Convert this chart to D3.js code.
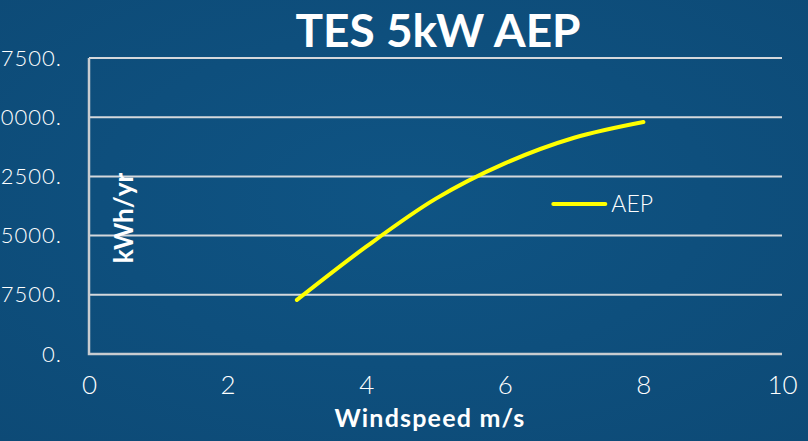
<!DOCTYPE html>
<html>
<head>
<meta charset="utf-8">
<script src="https://cdn.jsdelivr.net/npm/d3@7"></script>
<style>
    html, body { margin: 0; padding: 0; background: #0e4f7d; }
    svg { display: block; }
</style>
</head>
<body>
<div id="chart"></div>
<script>
// Chart data
const windspeed = [3, 4, 5, 6, 7, 8];
const aep = [6850, 13600, 19650, 24150, 27400, 29400];
const xTicks = [0, 2, 4, 6, 8, 10];
const yTicks = [0, 7500, 15000, 22500, 30000, 37500];
const seriesName = "AEP";

function createChart(container_width, container_height) {
    let svg = d3.select("#chart")
        .append("svg")
        .attr("width", container_width)
        .attr("height", container_height);

    // Background
    let grad = svg.append("defs")
        .append("radialGradient")
        .attr("id", "bg")
        .attr("cx", "50%").attr("cy", "45%").attr("r", "75%");
    grad.append("stop").attr("offset", "0%").attr("stop-color", "#0f5484");
    grad.append("stop").attr("offset", "100%").attr("stop-color", "#0d4a76");

    svg.append("rect")
        .attr("width", container_width)
        .attr("height", container_height)
        .attr("fill", "url(#bg)");

    let margin = { top: 58, left: 89, bottom: 87, right: 26 };
    let width = container_width - margin.left - margin.right;
    let height = container_height - margin.top - margin.bottom;

    let g = svg.append('g')
        .attr("transform", `translate(${margin.left}, ${margin.top})`);

    let xScale = d3.scaleLinear().domain([0, 10]).range([0, width]);
    let yScale = d3.scaleLinear().domain([0, 37500]).range([height, 0]);

    /* Grid lines */
    g.append('g')
        .selectAll("line")
        .data(yTicks.slice(1))
        .enter()
        .append("line")
        .attr("x1", 0)
        .attr("x2", width)
        .attr("y1", d => yScale(d))
        .attr("y2", d => yScale(d))
        .attr("stroke", "#d4d8dc")
        .attr("stroke-width", 2);

    /* Axes */
    let yAxis = d3.axisLeft(yScale)
        .tickValues(yTicks)
        .tickSize(0)
        .tickPadding(27)
        .tickFormat(d => d + ".");
    let xAxis = d3.axisBottom(xScale)
        .tickValues(xTicks)
        .tickSize(0)
        .tickPadding(22)
        .tickFormat(d3.format("d"));

    let yg = g.append('g').call(yAxis);
    let xg = g.append('g').attr("transform", `translate(0, ${height})`).call(xAxis);

    [yg, xg].forEach(a => {
        a.select(".domain").remove();
        a.selectAll("text")
            .attr("fill", "#ffffff")
            .attr("font-family", "Lato, 'Open Sans', sans-serif")
            .attr("font-weight", 300);
    });
    yg.selectAll("text")
        .attr("font-size", "22px")
        .attr("letter-spacing", "1px");
    xg.selectAll("text")
        .attr("font-size", "26px");

    // Left and bottom axis lines
    g.append("path")
        .attr("d", `M0,${yScale(37500)}V${height}H${width}`)
        .attr("fill", "none")
        .attr("stroke", "#c8ccd0")
        .attr("stroke-width", 2.5);

    /* Series line */
    let line = d3.line()
        .x((d, i) => xScale(windspeed[i]))
        .y(d => yScale(d))
        .curve(d3.curveCatmullRom.alpha(0.5));

    g.append("path")
        .datum(aep)
        .attr("d", line)
        .attr("fill", "none")
        .attr("stroke", "#ffff00")
        .attr("stroke-width", 4)
        .attr("stroke-linecap", "round");

    /* Legend */
    let legend = g.append('g')
        .attr("transform", `translate(${xScale(6.7)}, ${yScale(19000)})`);
    legend.append("line")
        .attr("x1", 0).attr("x2", 52)
        .attr("y1", 0).attr("y2", 0)
        .attr("stroke", "#ffff00")
        .attr("stroke-width", 4)
        .attr("stroke-linecap", "round");
    legend.append("text")
        .attr("x", 58)
        .attr("y", 8)
        .attr("fill", "#ffffff")
        .attr("font-family", "Lato, 'Open Sans', sans-serif")
        .attr("font-weight", 300)
        .attr("font-size", "23px")
        .text(seriesName);

    /* Titles */
    svg.append("text")
        .attr("x", 438)
        .attr("y", 47)
        .attr("text-anchor", "middle")
        .attr("fill", "#ffffff")
        .attr("font-family", "Lato, 'Open Sans', sans-serif")
        .attr("font-weight", 700)
        .attr("font-size", "46px")
        .text("TES 5kW AEP");

    svg.append("text")
        .attr("x", 430)
        .attr("y", 427)
        .attr("text-anchor", "middle")
        .attr("fill", "#ffffff")
        .attr("font-family", "Lato, 'Open Sans', sans-serif")
        .attr("font-weight", 700)
        .attr("font-size", "25px")
        .attr("letter-spacing", "1.2px")
        .text("Windspeed m/s");

    svg.append("text")
        .attr("transform", "translate(133, 218) rotate(-90)")
        .attr("text-anchor", "middle")
        .attr("fill", "#ffffff")
        .attr("font-family", "Lato, 'Open Sans', sans-serif")
        .attr("font-weight", 700)
        .attr("font-size", "26px")
        .text("kWh/yr");
}

createChart(808, 441);
</script>
</body>
</html>
